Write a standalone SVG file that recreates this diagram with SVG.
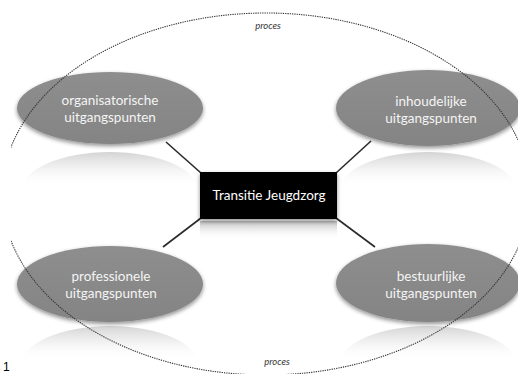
<svg xmlns="http://www.w3.org/2000/svg" width="518" height="374" viewBox="0 0 518 374">
<defs>
  <linearGradient id="nodeFill" x1="0" y1="0" x2="0" y2="1">
    <stop offset="0" stop-color="#8e8e8e"/>
    <stop offset="1" stop-color="#848484"/>
  </linearGradient>
  <linearGradient id="refl" x1="0" y1="0" x2="0" y2="1">
    <stop offset="0" stop-color="#cfcfcf" stop-opacity="0.9"/>
    <stop offset="0.2" stop-color="#e6e6e6" stop-opacity="0.6"/>
    <stop offset="0.45" stop-color="#ffffff" stop-opacity="0"/>
  </linearGradient>
  <linearGradient id="boxRefl" x1="0" y1="0" x2="0" y2="1">
    <stop offset="0" stop-color="#a8a8a8" stop-opacity="0.8"/>
    <stop offset="1" stop-color="#ffffff" stop-opacity="0"/>
  </linearGradient>
  <filter id="shadow" x="-20%" y="-20%" width="140%" height="150%">
    <feGaussianBlur in="SourceAlpha" stdDeviation="2"/>
    <feOffset dy="2" result="b"/>
    <feComponentTransfer><feFuncA type="linear" slope="0.45"/></feComponentTransfer>
    <feMerge><feMergeNode/><feMergeNode in="SourceGraphic"/></feMerge>
  </filter>
  <clipPath id="procClip"><rect x="11" y="0" width="507" height="374"/></clipPath>
</defs>
<style>
  .node { fill: url(#nodeFill); filter: url(#shadow); }
  .refl { fill: url(#refl); }
  .lbl { font-family: Lato, "Open Sans", sans-serif; font-size: 13.5px; fill: #f4f4f4; text-anchor: middle; }
  .conn { stroke: #2a2a2a; stroke-width: 1.6; fill: none; }
  .proc { font-family: Lato, "Open Sans", sans-serif; font-style: italic; font-size: 9.5px; fill: #333; text-anchor: middle; }
</style>
<rect width="518" height="374" fill="#ffffff"/>

<g id="reflections">
  <ellipse class="refl" cx="110" cy="190" rx="88" ry="38"/>
  <ellipse class="refl" cx="428" cy="190" rx="88" ry="38"/>
  <ellipse class="refl" cx="110" cy="364" rx="88" ry="38"/>
  <ellipse class="refl" cx="428" cy="364" rx="88" ry="38"/>
  <rect x="200" y="221" width="137" height="18" fill="url(#boxRefl)"/>
</g>

<g id="connectors">
  <line class="conn" x1="166" y1="142" x2="201" y2="173"/>
  <line class="conn" x1="371" y1="141" x2="336" y2="173"/>
  <line class="conn" x1="163" y1="247" x2="201" y2="218"/>
  <line class="conn" x1="375" y1="247" x2="336" y2="218"/>
</g>

<g id="node-organisatorisch">
  <ellipse class="node" cx="110" cy="108" rx="93" ry="36"/>
  <text class="lbl" x="110" y="105">organisatorische</text>
  <text class="lbl" x="110" y="122">uitgangspunten</text>
</g>
<g id="node-inhoudelijk">
  <ellipse class="node" cx="428" cy="108" rx="92" ry="38"/>
  <text class="lbl" x="431" y="106">inhoudelijke</text>
  <text class="lbl" x="431" y="123">uitgangspunten</text>
</g>
<g id="node-professioneel">
  <ellipse class="node" cx="110" cy="284" rx="93" ry="38"/>
  <text class="lbl" x="111" y="281">professionele</text>
  <text class="lbl" x="111" y="298">uitgangspunten</text>
</g>
<g id="node-bestuurlijk">
  <ellipse class="node" cx="428" cy="283" rx="92" ry="39"/>
  <text class="lbl" x="431" y="281">bestuurlijke</text>
  <text class="lbl" x="431" y="298">uitgangspunten</text>
</g>

<g id="node-center">
  <rect x="200" y="172" width="137" height="47" fill="#000000" filter="url(#shadow)"/>
  <text x="269" y="200" font-family="Lato, 'Open Sans', sans-serif" font-size="13.5" fill="#ffffff" text-anchor="middle">Transitie Jeugdzorg</text>
</g>

<g id="proces">
  <ellipse cx="266" cy="194" rx="264" ry="181" fill="none" stroke="#333" stroke-width="1.1" stroke-dasharray="1.3 1" clip-path="url(#procClip)"/>
  <text class="proc" x="268" y="29">proces</text>
  <text class="proc" x="277" y="365">proces</text>
</g>

<text x="3" y="371" font-family="'Liberation Sans', Arial, sans-serif" font-size="12" fill="#000">1</text>
</svg>
